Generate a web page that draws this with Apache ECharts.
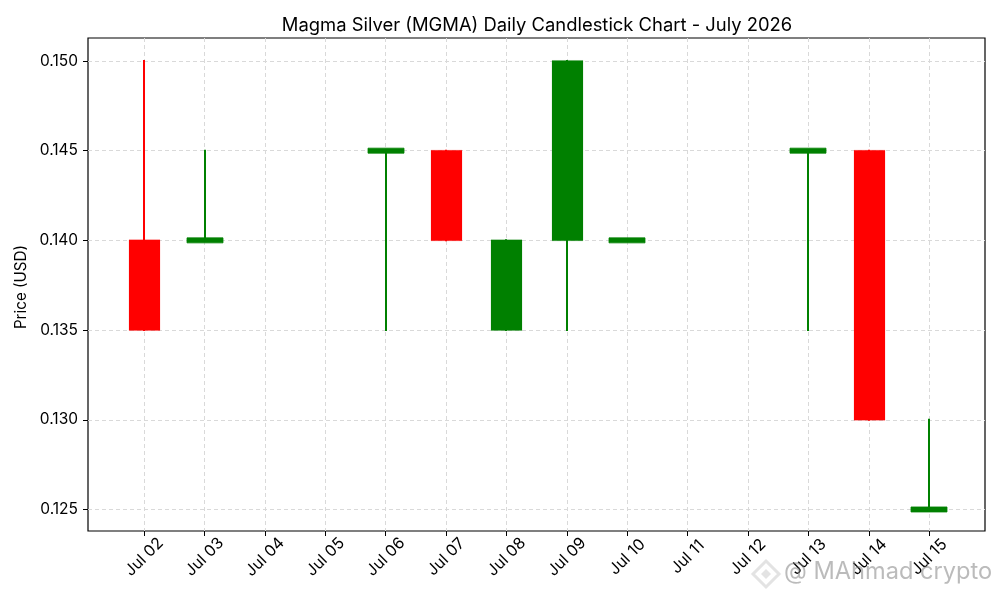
<!DOCTYPE html>
<html><head><meta charset="utf-8">
<style>html,body{margin:0;background:#fff}#c{width:1000px;height:600px}</style>
<script src="https://cdn.jsdelivr.net/npm/echarts@6/dist/echarts.min.js"></script>
</head><body><div id="c"></div>
<script>
const dates = ['Jul 02','Jul 03','Jul 04','Jul 05','Jul 06','Jul 07','Jul 08','Jul 09','Jul 10','Jul 11','Jul 12','Jul 13','Jul 14','Jul 15'];
const priceTicks = [0.125,0.130,0.135,0.140,0.145,0.150];
const candleDays = [0,1,4,5,6,7,8,11,12,13];
const opens  = [0.140,0.140,0.145,0.145,0.135,0.140,0.140,0.145,0.145,0.125];
const closes = [0.135,0.140,0.145,0.140,0.140,0.150,0.140,0.145,0.130,0.125];
const lows   = [0.135,0.140,0.135,0.140,0.135,0.135,0.140,0.135,0.130,0.125];
const highs  = [0.150,0.145,0.145,0.145,0.140,0.150,0.140,0.145,0.145,0.130];
const FONT = 'Inter, "Noto Sans", sans-serif';
const UP = '#008000', DOWN = '#ff0000';
const rows = candleDays.map((d,i)=>[d,opens[i],closes[i],lows[i],highs[i]]);
const tickIdx = dates.map((_,i)=>i);
const chart = echarts.init(document.getElementById('c'),null,{renderer:'canvas'});
chart.setOption({
  animation:false,
  backgroundColor:'#fff',
  title:{text:'Magma Silver (MGMA) Daily Candlestick Chart - July 2026',left:532,top:11,textAlign:'center',
    textStyle:{fontFamily:FONT,fontSize:18.4,fontWeight:'normal',color:'#000'}},
  grid:{left:88,right:15,top:38,bottom:69,show:true,borderColor:'#000',borderWidth:1.2,backgroundColor:'#fff'},
  xAxis:{type:'value',min:-0.93,max:13.925,
    axisLine:{show:false,onZero:false},
    axisTick:{show:true,length:5,customValues:tickIdx,lineStyle:{color:'#000',width:1}},
    axisLabel:{customValues:tickIdx,rotate:45,margin:26,align:'center',verticalAlign:'middle',
      fontFamily:FONT,fontSize:16,color:'#000',
      formatter:v=>dates[Math.round(v)]},
    splitLine:{show:true,lineStyle:{color:'#d9d9d9',type:[4,3],width:1}}},
  yAxis:{type:'value',min:0.1238,max:0.15128,name:'Price (USD)',nameLocation:'middle',nameGap:57,
    nameTextStyle:{fontFamily:FONT,fontSize:15.2,color:'#000',padding:[0,5,0,0]},
    axisLine:{show:false,onZero:false},
    axisTick:{show:true,length:5,customValues:priceTicks,lineStyle:{color:'#000',width:1}},
    axisLabel:{customValues:priceTicks,margin:10,fontFamily:FONT,fontSize:15.5,color:'#000',formatter:v=>v.toFixed(3)},
    splitLine:{show:true,lineStyle:{color:'#d9d9d9',type:[4,3],width:1}}},
  series:[{type:'custom',clip:true,data:rows,encode:{x:0,y:[1,2,3,4]},
    renderItem(params,api){
      const d=api.value(0),o=api.value(1),c=api.value(2),l=api.value(3),h=api.value(4);
      const color=c>=o?UP:DOWN, doji=o===c;
      const x=Math.round(api.coord([d,o])[0]), yo=api.coord([d,o])[1], yc=api.coord([d,c])[1];
      const yl=api.coord([d,l])[1], yh=api.coord([d,h])[1];
      const w=doji?36:31, top=Math.min(yo,yc), ht=doji?5:Math.abs(yo-yc)+1;
      const bx=doji?x-w/2:x-w/2+0.5;
      return {type:'group',children:[
        {type:'line',shape:{x1:x,y1:yh,x2:x,y2:yl},style:{stroke:color,lineWidth:2,lineCap:'square'}},
        {type:'rect',shape:{x:bx,y:doji?top-2.5:top-0.5,width:w,height:ht},
          style:{fill:color,stroke:color,lineWidth:1,strokeOpacity:doji?0.8:0.15}}
      ]};
    }}],
  graphic:[
    {type:'text',left:784,top:560,silent:true,z:100,style:{text:'@ MAhmad crypto',fontFamily:FONT,fontSize:23.6,fill:'rgba(120,120,120,0.5)'}},
    {type:'polygon',silent:true,z:100,shape:{points:[[766,561],[779,574],[766,587],[753,574]]},style:{fill:'none',stroke:'rgba(200,200,200,0.5)',lineWidth:3}},
    {type:'polygon',silent:true,z:100,shape:{points:[[766,569],[771,574],[766,579],[761,574]]},style:{fill:'rgba(200,200,200,0.5)'}}
  ]
});
</script></body></html>
